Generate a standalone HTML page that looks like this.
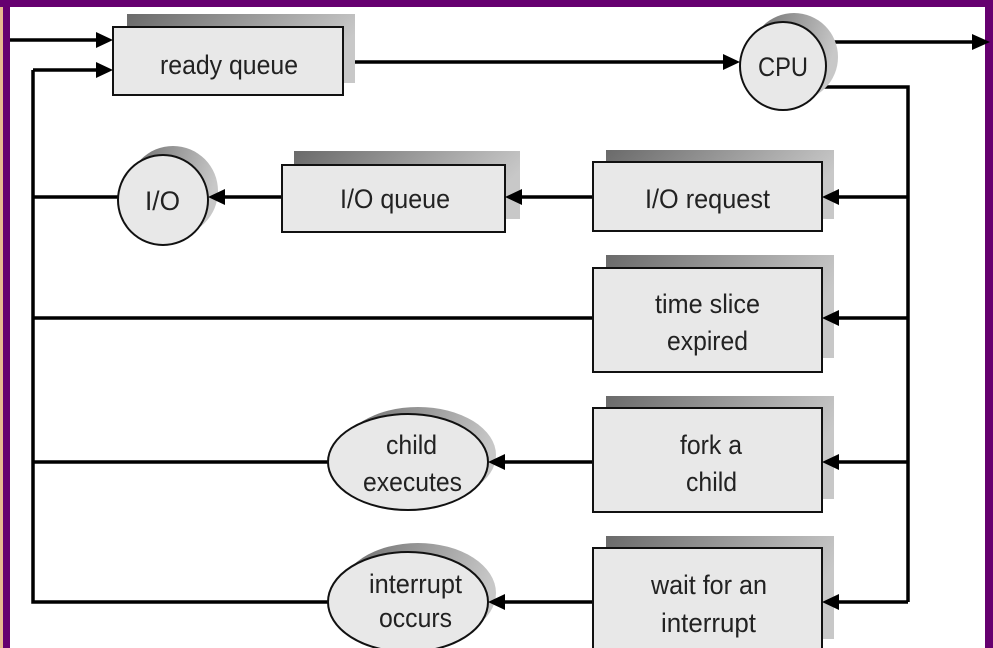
<!DOCTYPE html>
<html><head><style>
html,body{margin:0;padding:0;background:#fff;}
svg{display:block;}
text{font-family:"Liberation Sans",sans-serif;font-size:27px;fill:#222;}
</style></head><body>
<svg width="993" height="648" viewBox="0 0 993 648" xmlns="http://www.w3.org/2000/svg">
<defs>
<linearGradient id="sh" x1="0" y1="0" x2="1" y2="0.3">
<stop offset="0" stop-color="#6a6a6a"/><stop offset="1" stop-color="#c8c8c8"/>
</linearGradient>
</defs>
<rect x="0" y="0" width="993" height="648" fill="#fff"/>
<rect x="0" y="0" width="3" height="648" fill="#e8b890"/>
<rect x="3" y="0" width="7" height="648" fill="#660070"/>
<rect x="0" y="0" width="993" height="7" fill="#660070"/>
<rect x="985" y="0" width="8" height="648" fill="#660070"/>

<g stroke="#000" stroke-width="3.5" fill="none">
<polyline points="33,70 33,602 330,602"/>
<line x1="33" y1="197" x2="118" y2="197"/>
<line x1="33" y1="318" x2="593" y2="318"/>
<line x1="33" y1="462" x2="330" y2="462"/>
<polyline points="822,87 908,87 908,602"/>
<line x1="908" y1="197" x2="830" y2="197"/>
<line x1="908" y1="318" x2="830" y2="318"/>
<line x1="908" y1="462" x2="830" y2="462"/>
<line x1="908" y1="602" x2="830" y2="602"/>
<line x1="10" y1="40" x2="100" y2="40"/>
<line x1="33" y1="70" x2="100" y2="70"/>
<line x1="343" y1="62" x2="725" y2="62"/>
<line x1="825" y1="42" x2="975" y2="42"/>
<line x1="282" y1="197" x2="222" y2="197"/>
<line x1="593" y1="197" x2="520" y2="197"/>
<line x1="593" y1="462" x2="505" y2="462"/>
<line x1="593" y1="602" x2="505" y2="602"/>
</g>

<g fill="url(#sh)">
<rect x="127" y="14" width="228" height="69"/>
<rect x="294" y="151" width="226" height="68"/>
<rect x="606" y="150" width="228" height="69"/>
<rect x="606" y="255" width="228" height="103"/>
<rect x="606" y="396" width="228" height="103"/>
<rect x="606" y="536" width="228" height="103"/>
<circle cx="794" cy="57" r="44"/>
<circle cx="173" cy="191" r="45"/>
<ellipse cx="418" cy="455" rx="78" ry="48"/>
<ellipse cx="418" cy="593" rx="78" ry="50"/>
</g>

<g fill="#e8e8e8" stroke="#111" stroke-width="2">
<rect x="113" y="27" width="230" height="68"/>
<rect x="282" y="165" width="223" height="67"/>
<rect x="593" y="162" width="229" height="69"/>
<rect x="593" y="268" width="229" height="104"/>
<rect x="593" y="408" width="229" height="104"/>
<rect x="593" y="548" width="229" height="110"/>
<ellipse cx="783" cy="66" rx="43" ry="44"/>
<circle cx="163" cy="200" r="45"/>
<ellipse cx="408" cy="462" rx="80" ry="48"/>
<ellipse cx="408" cy="602" rx="80" ry="50"/>
</g>

<g fill="#000">
<path d="M96,32 L113,40 L96,48z"/>
<path d="M96,62 L113,70 L96,78z"/>
<path d="M723,54 L740,62 L723,70z"/>
<path d="M972,34 L990,42 L972,50z"/>
<path d="M822,197 L839,189 L839,205z"/>
<path d="M822,318 L839,310 L839,326z"/>
<path d="M822,462 L839,454 L839,470z"/>
<path d="M822,602 L839,594 L839,610z"/>
<path d="M505,197 L522,189 L522,205z"/>
<path d="M208,197 L225,189 L225,205z"/>
<path d="M488,462 L505,454 L505,470z"/>
<path d="M488,602 L505,594 L505,610z"/>
</g>

<text x="160" y="74" textLength="138" lengthAdjust="spacingAndGlyphs">ready queue</text>
<text x="758" y="76" textLength="50" lengthAdjust="spacingAndGlyphs">CPU</text>
<text x="145" y="210" textLength="35" lengthAdjust="spacingAndGlyphs">I/O</text>
<text x="340" y="208" textLength="110" lengthAdjust="spacingAndGlyphs">I/O queue</text>
<text x="645" y="208" textLength="125" lengthAdjust="spacingAndGlyphs">I/O request</text>
<text x="655" y="313" textLength="105" lengthAdjust="spacingAndGlyphs">time slice</text>
<text x="667" y="350" textLength="81" lengthAdjust="spacingAndGlyphs">expired</text>
<text x="680" y="454" textLength="62" lengthAdjust="spacingAndGlyphs">fork a</text>
<text x="686" y="491" textLength="51" lengthAdjust="spacingAndGlyphs">child</text>
<text x="651" y="594" textLength="116" lengthAdjust="spacingAndGlyphs">wait for an</text>
<text x="661" y="632" textLength="95" lengthAdjust="spacingAndGlyphs">interrupt</text>
<text x="386" y="454" textLength="51" lengthAdjust="spacingAndGlyphs">child</text>
<text x="363" y="491" textLength="99" lengthAdjust="spacingAndGlyphs">executes</text>
<text x="369" y="593" textLength="93" lengthAdjust="spacingAndGlyphs">interrupt</text>
<text x="379" y="627" textLength="73" lengthAdjust="spacingAndGlyphs">occurs</text>
</svg>
</body></html>
